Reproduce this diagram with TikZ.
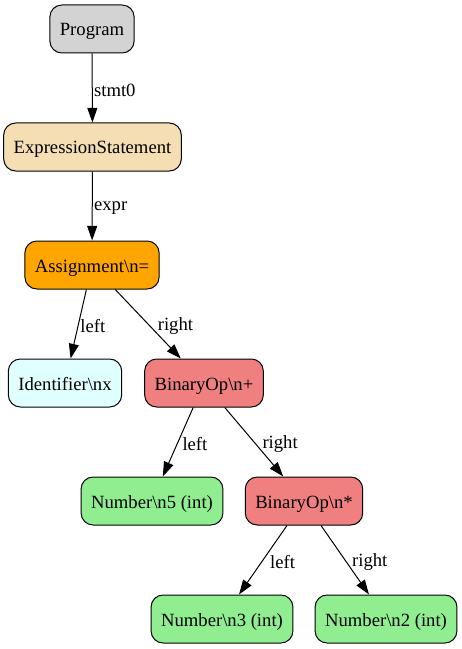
\documentclass[tikz,border=0pt]{standalone}
\usepackage{fontspec}
\setmainfont{Liberation Serif}
\usetikzlibrary{arrows.meta}
\definecolor{lgray}{HTML}{D3D3D3}
\definecolor{wheat}{HTML}{F5DEB3}
\definecolor{orng}{HTML}{FFA500}
\definecolor{lcyan}{HTML}{E0FFFF}
\definecolor{lcoral}{HTML}{F08080}
\definecolor{lgreen}{HTML}{90EE90}
\tikzset{
    every node/.style={font=\fontsize{14pt}{16pt}\selectfont}
}
\tikzset{
    astnode/.style={draw, rounded corners=9pt, line width=0.75pt,
    	minimum height=36pt, inner xsep=7.5pt, inner ysep=0pt,
    	text height=12.5pt, text depth=2pt}
}
\tikzset{
    every edge/.append style={line width=0.75pt,
    	-{Triangle[length=11pt, width=7.5pt]}},
    lbl/.style={anchor=west, inner sep=1pt, pos=0.5, yshift=-1.5pt}
}

\begin{document}
\begin{tikzpicture}[x=0.75pt, y=-0.75pt]
	\useasboundingbox (0,0) rectangle (461,649);
	\node (1) [astnode, fill=lgray] at (92, 29) {Program};
	\node (2) [astnode, fill=wheat] at (92.5, 147) {ExpressionStatement};
	\node (3) [astnode, fill=orng] at (92, 265) {Assignment\textbackslash n=};
	\node (4) [astnode, fill=lcyan] at (65, 383) {Identifier\textbackslash nx};
	\node (5) [astnode, fill=lcoral] at (204, 383) {BinaryOp\textbackslash n+};
	\node (6) [astnode, fill=lgreen] at (152, 501) {Number\textbackslash n5 (int)};
	\node (7) [astnode, fill=lcoral] at (304, 501) {BinaryOp\textbackslash n*};
	\node (8) [astnode, fill=lgreen] at (222, 619) {Number\textbackslash n3 (int)};
	\node (9) [astnode, fill=lgreen] at (386, 619) {Number\textbackslash n2 (int)};
	
	\draw (1) edge node[lbl] {stmt0} (2);
	\draw (2) edge node[lbl] {expr} (3);
	\draw (3) edge node[lbl] {left} (4); \draw (3) edge node[lbl, xshift=6pt] {right} (5);
	\draw (5) edge node[lbl, xshift=2pt] {left} (6); \draw (5) edge node[lbl, xshift=5pt] {right} (7);
	\draw (7) edge node[lbl, xshift=4pt] {left} (8); \draw (7) edge node[lbl, xshift=4pt] {right} (9);
\end{tikzpicture}
\end{document}
